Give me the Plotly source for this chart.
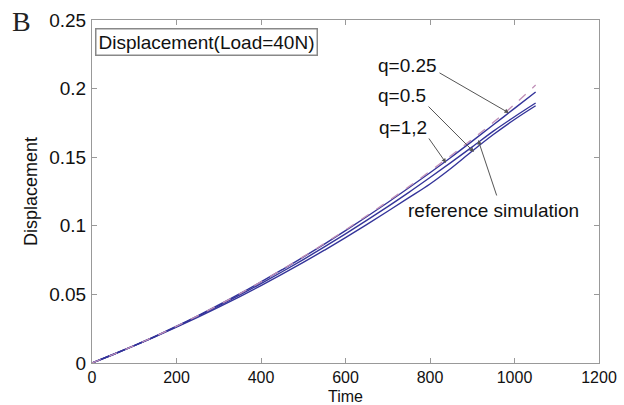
import plotly.graph_objects as go

time = [0, 50, 100, 150, 200, 250, 300, 350, 400, 450, 500, 550, 600, 650, 700, 750, 800, 850, 900, 950, 1000, 1050]
ref_sim = [0, .0062, .0127, .0195, .0268, .0344, .0423, .0506, .0592, .0682, .0775, .0871, .0970, .1073, .1178, .1286, .1398, .1513, .1631, .1754, .1885, .2026]
q_025 = [0, .0062, .0127, .0195, .0268, .0344, .0423, .0505, .0591, .0680, .0772, .0867, .0965, .1066, .1170, .1277, .1387, .1500, .1617, .1736, .1856, .1975]
q_12 = [0, .0062, .0126, .0194, .0265, .0339, .0416, .0496, .0579, .0665, .0754, .0846, .0941, .1039, .1140, .1244, .1352, .1462, .1575, .1690, .1795, .1895]
q_05 = [0, .0062, .0126, .0193, .0262, .0333, .0407, .0484, .0564, .0647, .0733, .0822, .0914, .1009, .1106, .1205, .1305, .1420, .1545, .1665, .1775, .1875]

x_ticks = [0, 200, 400, 600, 800, 1000, 1200]
y_ticks = [0, 0.05, 0.1, 0.15, 0.2, 0.25]
y_ticktext = ["0", "0.05", "0.1", "0.15", "0.2", "0.25"]

# annotation labels: (text, text_x, text_y, tail_x, tail_y, tip_x, tip_y)
labels = [
    ("q=0.25", 672, 0.2172, 819, 0.2121, 987, 0.1822),
    ("q=0.5", 672, 0.1953, 793, 0.1880, 904, 0.1538),
    ("q=1,2", 674, 0.1720, 795, 0.1647, 838, 0.1458),
    ("reference simulation", 744, 0.1108, 959, 0.1210, 914, 0.1625),
]

navy = "#34349a"
fig = go.Figure()
fig.add_trace(go.Scatter(x=time, y=q_05, mode="lines", line=dict(color=navy, width=1.4), line_shape="spline"))
fig.add_trace(go.Scatter(x=time, y=q_12, mode="lines", line=dict(color=navy, width=1.4), line_shape="spline"))
fig.add_trace(go.Scatter(x=time, y=q_025, mode="lines", line=dict(color=navy, width=1.4), line_shape="spline"))
fig.add_trace(go.Scatter(x=time, y=ref_sim, mode="lines", line=dict(color="#c090b8", width=1.3, dash="dash"), line_shape="spline"))

font = "Liberation Sans, Arial, sans-serif"
for text, tx, ty, ax, ay, px, py in labels:
    fig.add_annotation(x=tx, y=ty, xref="x", yref="y", text=text, showarrow=False,
                       xanchor="left", yanchor="middle", font=dict(family=font, size=19, color="#111"))
    fig.add_annotation(x=px, y=py, xref="x", yref="y", ax=ax, ay=ay, axref="x", ayref="y", text="",
                       showarrow=True, arrowhead=2, arrowsize=0.9, arrowwidth=1, arrowcolor="#555", standoff=0)

fig.add_annotation(x=3 / 507, y=1 - 8 / 343, xref="paper", yref="paper", xanchor="left", yanchor="top",
                   text="Displacement(Load=40N)", showarrow=False, bordercolor="#888", borderwidth=1.5,
                   borderpad=2, bgcolor="white", font=dict(family=font, size=19, color="#111"))
fig.add_annotation(x=-82 / 507, y=1 + 16 / 343, xref="paper", yref="paper", xanchor="left", yanchor="top",
                   text="B", showarrow=False, font=dict(family="Liberation Serif, serif", size=28, color="#222"))
# x-axis title placed as text at the bottom edge
fig.add_annotation(x=0.5, y=-42 / 343, xref="paper", yref="paper", xanchor="center", yanchor="bottom",
                   text="Time", showarrow=False, yshift=-2, font=dict(family=font, size=16, color="#111"))

axis_common = dict(showgrid=False, zeroline=False, showline=True, linecolor="#999", linewidth=1,
                   mirror="ticks", ticks="inside", ticklen=5, tickcolor="#999", automargin=False)
fig.update_xaxes(range=[0, 1200], tickvals=x_ticks, tickfont=dict(family=font, size=16, color="#111"), **axis_common)
fig.update_yaxes(range=[0, 0.25], tickvals=y_ticks, ticktext=y_ticktext, ticklabelstandoff=1,
                 tickfont=dict(family=font, size=19, color="#111"),
                 title=dict(text="Displacement", standoff=6, font=dict(family=font, size=18, color="#111")), **axis_common)
fig.update_layout(width=624, height=405, margin=dict(l=92, r=25, t=20, b=42, autoexpand=False),
                  plot_bgcolor="white", paper_bgcolor="white", showlegend=False)
fig.write_html("out.html")
